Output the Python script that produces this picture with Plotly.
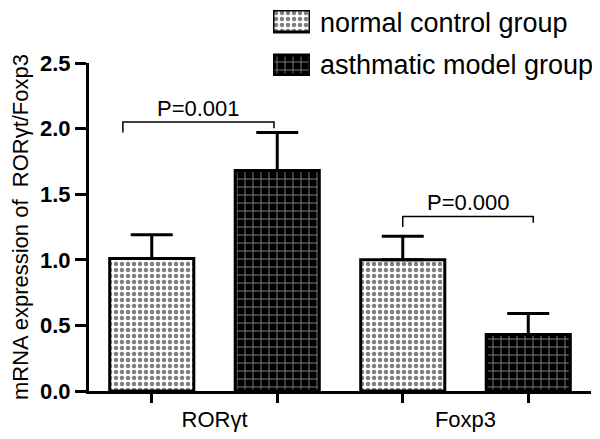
import plotly.graph_objects as go

# ---- data ----
categories = ["RORγt", "Foxp3"]
groups = ["normal control group", "asthmatic model group"]
normal_mean = [1.01, 1.00]
normal_err = [0.18, 0.18]
asthma_mean = [1.68, 0.43]
asthma_err = [0.29, 0.16]
y_ticks = [0.0, 0.5, 1.0, 1.5, 2.0, 2.5]
p_labels = ["P=0.001", "P=0.000"]
p_bracket_y = [2.05, 1.33]
p_bracket_drop = [0.08, 0.08]
p_bracket_x = [(-0.365, 0.237), (0.75, 1.27)]

FONT = "Arial, 'Liberation Sans', sans-serif"
BARGAP = 0.0
BARGROUPGAP = 0.33
half = (1 - BARGAP) / 4  # centre offset of each bar within a category
xpos = list(range(len(categories)))

# the page body adds an 8px offset, so the figure is drawn 8px smaller
W, H = 592, 431
PL, PR, PT, PB = 81, 583, 55, 383          # plot area in figure pixels
LEG_X0, LEG_X1, LEG_T, LEG_B = 265, 302, 2, 68  # legend swatch column

NORMAL_PATTERN = dict(shape=".", fgcolor="black", bgcolor="white", size=6, solidity=0.45)
ASTHMA_PATTERN = dict(shape="+", fgcolor="white", bgcolor="black", size=8, solidity=0.22)

fig = go.Figure()
fig.add_trace(go.Bar(
    name=groups[0], x=xpos, y=normal_mean, showlegend=False,
    marker=dict(color="white", line=dict(color="black", width=3), pattern=NORMAL_PATTERN),
    error_y=dict(type="data", symmetric=False, array=normal_err,
                 arrayminus=[0] * len(normal_err), color="black", thickness=3, width=21),
))
fig.add_trace(go.Bar(
    name=groups[1], x=xpos, y=asthma_mean, showlegend=False,
    marker=dict(color="black", line=dict(color="black", width=3), pattern=ASTHMA_PATTERN),
    error_y=dict(type="data", symmetric=False, array=asthma_err,
                 arrayminus=[0] * len(asthma_err), color="black", thickness=3, width=21),
))

# tick marks under each bar
tickpos = []
for i in xpos:
    tickpos += [i - half, i + half]

# invisible trace carrying the category-label axis
fig.add_trace(go.Scatter(x=xpos, y=[0] * len(xpos), xaxis="x2", mode="markers",
                         marker=dict(opacity=0), showlegend=False, hoverinfo="skip"))

# large legend swatches (horizontal bars on their own small axes)
fig.add_trace(go.Bar(x=[1], y=[1], orientation="h", xaxis="x3", yaxis="y3", width=0.5,
                     showlegend=False, hoverinfo="skip",
                     marker=dict(color="white", line=dict(color="black", width=3),
                                 pattern=NORMAL_PATTERN)))
fig.add_trace(go.Bar(x=[1], y=[0], orientation="h", xaxis="x3", yaxis="y3", width=0.46,
                     showlegend=False, hoverinfo="skip",
                     marker=dict(color="black", line=dict(color="black", width=3),
                                 pattern=ASTHMA_PATTERN)))

# legend entries (text; swatch drawn above)
for g, lg in zip(groups, ["a", "b"]):
    fig.add_trace(go.Bar(x=[None], y=[None], name=g, legendgroup=lg, xaxis="x3", yaxis="y3",
                         marker=dict(color="rgba(0,0,0,0)", line=dict(width=0))))

# P-value brackets
for lab, yb, dr, (x0, x1) in zip(p_labels, p_bracket_y, p_bracket_drop, p_bracket_x):
    fig.add_shape(type="path", xref="x", yref="y",
                  path=f"M {x0},{yb - dr} L {x0},{yb} L {x1},{yb} L {x1},{yb - dr * 0.6}",
                  line=dict(color="black", width=1.5))
    fig.add_annotation(x=(x0 + x1) / 2, y=yb, yshift=14, text=lab, showarrow=False,
                       xanchor="center", yanchor="middle",
                       font=dict(family=FONT, size=22, color="black"))

fig.update_layout(
    width=W, height=H,
    margin=dict(l=0, r=0, t=0, b=0, pad=0, autoexpand=False),
    paper_bgcolor="white", plot_bgcolor="white",
    barmode="group", bargap=BARGAP, bargroupgap=BARGROUPGAP,
    font=dict(family=FONT, color="black"),
    showlegend=True,
    legend=dict(x=272 / W, y=1 + 11 / H, xanchor="left", yanchor="top",
                font=dict(family=FONT, size=27), tracegroupgap=4,
                bgcolor="rgba(0,0,0,0)", borderwidth=0),
    xaxis=dict(domain=[PL / W, PR / W], anchor="y", type="linear", range=[-0.5, 1.5],
               showline=True, linecolor="black", linewidth=3, tickvals=tickpos,
               ticks="outside", ticklen=9, tickwidth=3, tickcolor="black",
               showticklabels=False, showgrid=False, zeroline=False),
    xaxis2=dict(type="linear", overlaying="x", anchor="y", side="bottom",
                range=[-0.5, 1.5], tickvals=xpos, ticktext=categories, ticks="",
                showline=False, showgrid=False, zeroline=False, ticklabelstandoff=13,
                tickfont=dict(family=FONT, size=22, color="black")),
    yaxis=dict(domain=[(H - PB) / H, (H - PT) / H], anchor="x", range=[0, 2.5],
               tickvals=y_ticks, tickformat=".1f", ticks="outside",
               ticklen=11, tickwidth=3, tickcolor="black", showline=True,
               linecolor="black", linewidth=3, showgrid=False, zeroline=False,
               tickfont=dict(family=FONT, size=22, color="black", weight="bold"),
               title=dict(text="mRNA expression of  RORγt/Foxp3",
                          font=dict(family=FONT, size=22, color="black"))),
    xaxis3=dict(domain=[LEG_X0 / W, LEG_X1 / W], anchor="y3", range=[0, 1],
                visible=False, fixedrange=True),
    yaxis3=dict(domain=[(H - LEG_B) / H, (H - LEG_T) / H], anchor="x3", range=[-0.25, 1.25],
                visible=False, fixedrange=True),
)

fig.write_html("out.html")
